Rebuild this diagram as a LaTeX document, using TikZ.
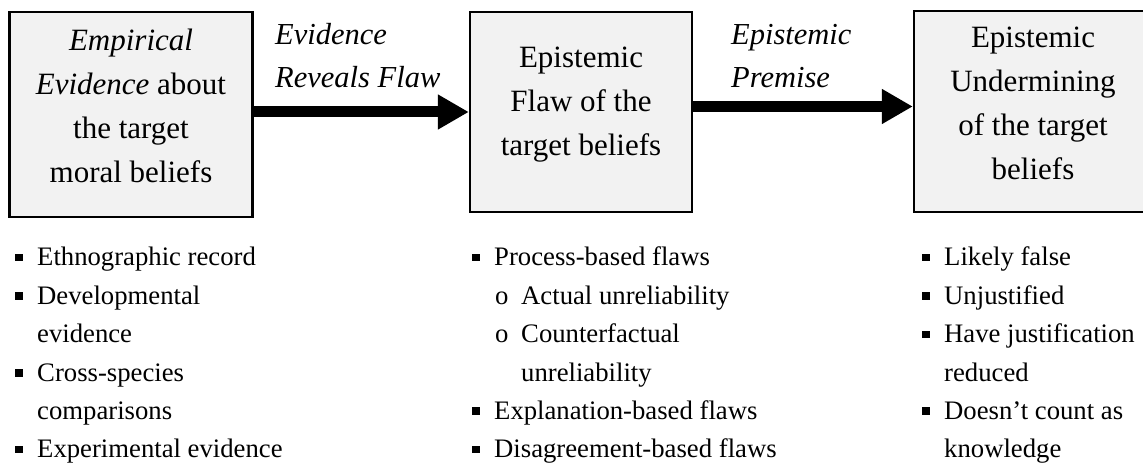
\documentclass[tikz,border=0pt]{standalone}
\usepackage{fontspec}
\setmainfont{Liberation Serif}
\usetikzlibrary{arrows.meta}
\begin{document}
\begin{tikzpicture}[x=1pt,y=-1pt,
  boxnode/.style={draw=black, line width=2.4pt, fill=boxgray, inner sep=0pt},
  boxtext/.style={anchor=north, inner sep=0pt, align=center, font=\fontsize{31}{44}\selectfont},
  lbl/.style={anchor=base west, inner sep=0pt, align=left, font=\fontsize{30.5}{43}\selectfont\itshape},
  item/.style={anchor=base west, inner sep=0pt, font=\fontsize{26.7}{38}\selectfont},
  bul/.style={fill=black, draw=none, minimum size=7.5pt, inner sep=0pt},
  bigarrow/.style={draw=black, line width=11pt, -{Triangle[length=31pt,width=33pt]}}
]
\definecolor{boxgray}{HTML}{F2F2F2}
\useasboundingbox (0,0) rectangle (1143,465);

% boxes
\node[boxnode, minimum width=243pt, minimum height=205pt] (box1) at (131,114.5) {};
\node[boxnode, minimum width=222pt, minimum height=200pt] (box2) at (581,112) {};
\node[boxnode, minimum width=238pt, minimum height=201pt] (box3) at (1033,111.5) {};

\node[boxtext] (t1) at (131,29) {\textit{Empirical}\\\textit{Evidence} about\\the target\\moral beliefs};
\node[boxtext] (t2) at (581,47) {Epistemic\\Flaw of the\\target beliefs};
\node[boxtext] (t3) at (1033,27) {Epistemic\\Undermining\\of the target\\beliefs};

% arrows
\draw[bigarrow] ([yshift=2.5pt]box1.east) -- (box2.west);
\draw[bigarrow] ([yshift=5.5pt]box2.east) -- ([yshift=5pt]box3.west);

% labels
\node[lbl] (l1a) at (275,45) {Evidence};
\node[lbl] (l1b) at (275,88) {Reveals Flaw};
\node[lbl] (l2a) at (731,45) {Epistemic};
\node[lbl] (l2b) at (731,88) {Premise};

% column 1
\node[bul] (b11) at (19,257.5) {};
\node[item] (c11) at (37,265.5) {Ethnographic record};
\node[bul] (b12) at (19,296) {};
\node[item] (c12) at (37,304) {Developmental};
\node[item] (c13) at (37,342.5) {evidence};
\node[bul] (b14) at (19,373) {};
\node[item] (c14) at (37,381) {Cross-species};
\node[item] (c15) at (37,419) {comparisons};
\node[bul] (b16) at (19,449.5) {};
\node[item] (c16) at (37,457.5) {Experimental evidence};

% column 2
\node[bul] (b21) at (476,257.5) {};
\node[item] (c21) at (494,265.5) {Process-based flaws};
\node[item] (o22) at (495,304) {o};
\node[item] (c22) at (521,304) {Actual unreliability};
\node[item] (o23) at (495,342.5) {o};
\node[item] (c23) at (521,342.5) {Counterfactual};
\node[item] (c24) at (521,381) {unreliability};
\node[bul] (b25) at (476,411) {};
\node[item] (c25) at (494,419) {Explanation-based flaws};
\node[bul] (b26) at (476,449.5) {};
\node[item] (c26) at (494,457.5) {Disagreement-based flaws};

% column 3
\node[bul] (b31) at (926,257.5) {};
\node[item] (c31) at (944,265.5) {Likely false};
\node[bul] (b32) at (926,296) {};
\node[item] (c32) at (944,304) {Unjustified};
\node[bul] (b33) at (926,334.5) {};
\node[item] (c33) at (944,342.5) {Have justification};
\node[item] (c34) at (944,381) {reduced};
\node[bul] (b35) at (926,411) {};
\node[item] (c35) at (944,419) {Doesn’t count as};
\node[item] (c36) at (944,457.5) {knowledge};
\end{tikzpicture}
\end{document}
